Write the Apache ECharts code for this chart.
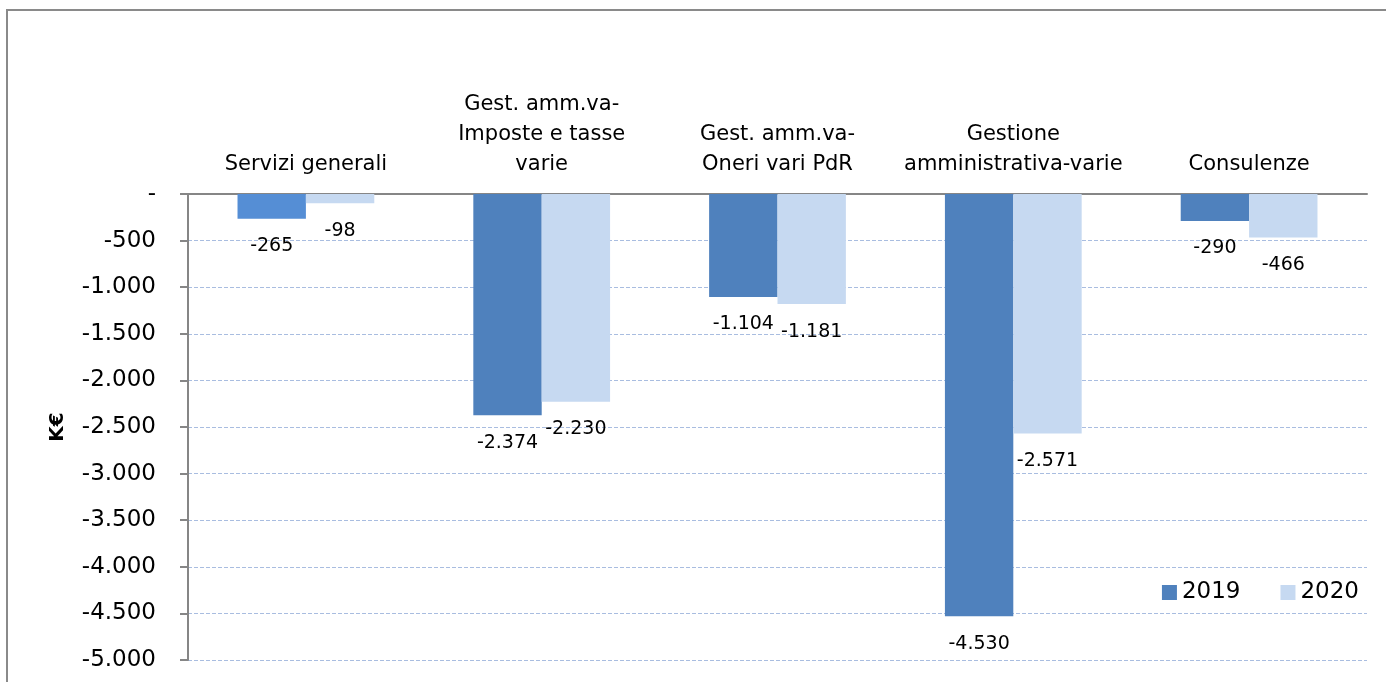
<!DOCTYPE html>
<html>
<head>
<meta charset="utf-8">
<script src="https://cdn.jsdelivr.net/npm/echarts@6/dist/echarts.min.js"></script>
<style>
  html, body { margin: 0; padding: 0; background: #fff; }
  #chart { width: 1386px; height: 682px; }
</style>
</head>
<body>
<div id="chart"></div>
<script>
// categorie e valori (K€)
const categories = [
  'Servizi generali',
  'Gest. amm.va-\nImposte e tasse\nvarie',
  'Gest. amm.va-\nOneri vari PdR',
  'Gestione\namministrativa-varie',
  'Consulenze'
]
const values2019 = [-265, -2374, -1104, -4530, -290]
const values2020 = [-98, -2230, -1181, -2571, -466]
const seriesNames = ['2019', '2020']

const FONT = 'DejaVu Sans'

// formato italiano: punto come separatore delle migliaia
function fmt (v) {
  return String(v).replace(/\B(?=(\d{3})+(?!\d))/g, '.')
}

const chart = echarts.init(document.getElementById('chart'))

const labelOpt = {
  show: true,
  position: 'bottom',
  distance: 18,
  color: '#000',
  fontFamily: FONT,
  fontSize: 19,
  formatter: p => fmt(p.value)
}

const option = {
  animation: false,
  textStyle: { fontFamily: FONT },
  graphic: [
    { // cornice esterna
      type: 'rect',
      shape: { x: 7, y: 10, width: 1400, height: 700 },
      style: { fill: 'none', stroke: '#8a8a8a', lineWidth: 2 },
      silent: true
    }
  ],
  legend: {
    data: seriesNames,
    right: 22,
    top: 576,
    itemWidth: 15,
    itemHeight: 15,
    itemGap: 40,
    icon: 'rect',
    textStyle: { fontFamily: FONT, fontSize: 23, color: '#000' }
  },
  grid: { left: 188, right: 19, top: 194, bottom: 22 },
  xAxis: {
    type: 'category',
    position: 'top',
    data: categories,
    axisLine: { lineStyle: { color: '#868686', width: 2 } },
    axisTick: { inside: true, length: 7, lineStyle: { color: '#868686', width: 2 } },
    axisLabel: {
      margin: 14,
      color: '#000',
      fontFamily: FONT,
      fontSize: 21,
      lineHeight: 30,
      interval: 0
    }
  },
  yAxis: {
    type: 'value',
    min: -5000,
    max: 0,
    interval: 500,
    name: 'K€',
    nameLocation: 'middle',
    nameGap: 120,
    nameRotate: 90,
    nameTextStyle: { fontFamily: FONT, fontSize: 20, fontWeight: 'bold', color: '#000' },
    axisLine: { show: true, lineStyle: { color: '#868686', width: 2 } },
    axisTick: { show: true, length: 8, lineStyle: { color: '#868686', width: 2 } },
    axisLabel: {
      margin: 32,
      color: '#000',
      fontFamily: FONT,
      fontSize: 23,
      formatter: v => (v === 0 ? '-' : fmt(v))
    },
    splitLine: { lineStyle: { color: '#a9bde0', type: [4, 2], width: 1 } }
  },
  series: [
    {
      name: seriesNames[0],
      type: 'bar',
      barGap: '0%',
      barCategoryGap: '42%',
      itemStyle: { color: '#4f81bd' },
      label: labelOpt,
      data: values2019.map((v, i) => i === 0 ? { value: v, itemStyle: { color: '#558ed5' } } : v)
    },
    {
      name: seriesNames[1],
      type: 'bar',
      barGap: '0%',
      barCategoryGap: '42%',
      itemStyle: { color: '#c6d9f1' },
      label: labelOpt,
      data: values2020
    }
  ]
}

chart.setOption(option)
</script>
</body>
</html>
